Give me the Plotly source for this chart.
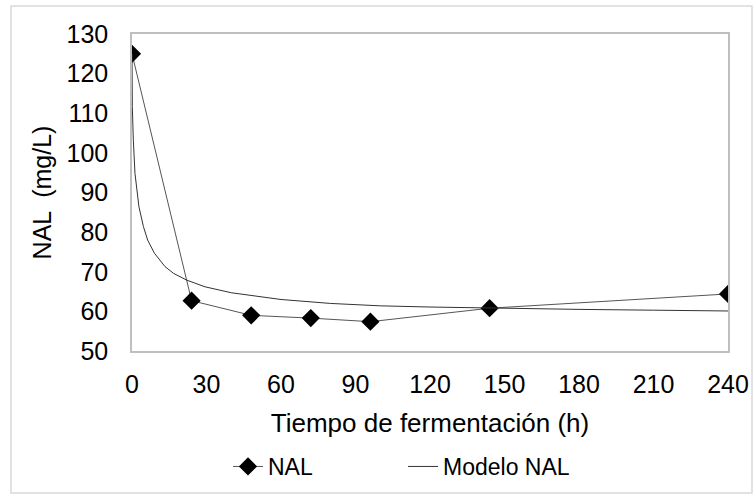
import plotly.graph_objects as go

# Data
t_obs = [0, 24, 48, 72, 96, 144, 240]
nal_obs = [125, 62.7, 59.0, 58.3, 57.4, 60.8, 64.4]

t_model = [0, 0.13, 0.54, 1.2, 2.8, 4.6, 6.3, 9.0, 13.3, 16.7, 22, 29.4, 40, 60, 80, 100, 120, 144, 180, 210, 240]
nal_model = [125, 111.7, 103.2, 94.8, 86.4, 81.4, 78.0, 74.7, 71.3, 69.6, 67.9, 66.2, 64.7, 63.0, 62.0, 61.4, 61.1, 60.8, 60.5, 60.3, 60.1]

x_ticks = [0, 30, 60, 90, 120, 150, 180, 210, 240]
y_ticks = [50, 60, 70, 80, 90, 100, 110, 120, 130]

W, H = 755, 495
L, R, T, B = 132, 27, 34, 144
pw, ph = W - L - R, H - T - B

FONT = "Liberation Sans, Arial, sans-serif"

fig = go.Figure()
fig.add_trace(go.Scatter(
    x=t_obs, y=nal_obs, name="NAL", mode="lines+markers",
    line=dict(color="#555555", width=1),
    marker=dict(symbol="diamond", size=14, color="black"),
))
fig.add_trace(go.Scatter(
    x=t_model, y=nal_model, name="Modelo NAL", mode="lines",
    line=dict(color="#333333", width=1),
))

def px2paper_x(px):
    return (px - L) / pw

def px2paper_y(py):
    return (H - B - py) / ph

fig.add_shape(type="rect", xref="paper", yref="paper",
              x0=px2paper_x(11), x1=px2paper_x(752),
              y0=px2paper_y(493), y1=px2paper_y(6),
              line=dict(color="#d9d9d9", width=1.5), layer="below")

fig.update_layout(
    width=W, height=H,
    margin=dict(l=L, r=R, t=T, b=B, autoexpand=False),
    paper_bgcolor="white", plot_bgcolor="white",
    font=dict(family=FONT, size=22, color="black"),
    showlegend=True,
    legend=dict(orientation="h", xref="container", yref="container",
                x=228 / W, xanchor="left", y=1 - 445 / H, yanchor="top",
                entrywidth=130, entrywidthmode="pixels",
                font=dict(size=23), tracegroupgap=0),
    xaxis=dict(
        range=[0, 240], tickmode="array", tickvals=x_ticks,
        ticktext=[str(v) for v in x_ticks],
        showgrid=False, zeroline=False, automargin=False,
        showline=True, linecolor="#bfbfbf", linewidth=1.5, mirror=True,
        ticks="outside", ticklen=10, tickcolor="rgba(0,0,0,0)",
        tickfont=dict(size=25),
        title=dict(text="Tiempo de fermentación (h)", standoff=17, font=dict(size=26)),
    ),
    yaxis=dict(
        range=[50, 130], tickmode="array", tickvals=y_ticks,
        ticktext=[str(v) for v in y_ticks],
        showgrid=False, zeroline=False, automargin=False,
        showline=True, linecolor="#bfbfbf", linewidth=1.5, mirror=True,
        ticks="outside", ticklen=17, tickcolor="rgba(0,0,0,0)",
        tickfont=dict(size=25),
        title=dict(text="NAL  (mg/L)", standoff=8, font=dict(size=25)),
    ),
)

fig.write_html("out.html")
